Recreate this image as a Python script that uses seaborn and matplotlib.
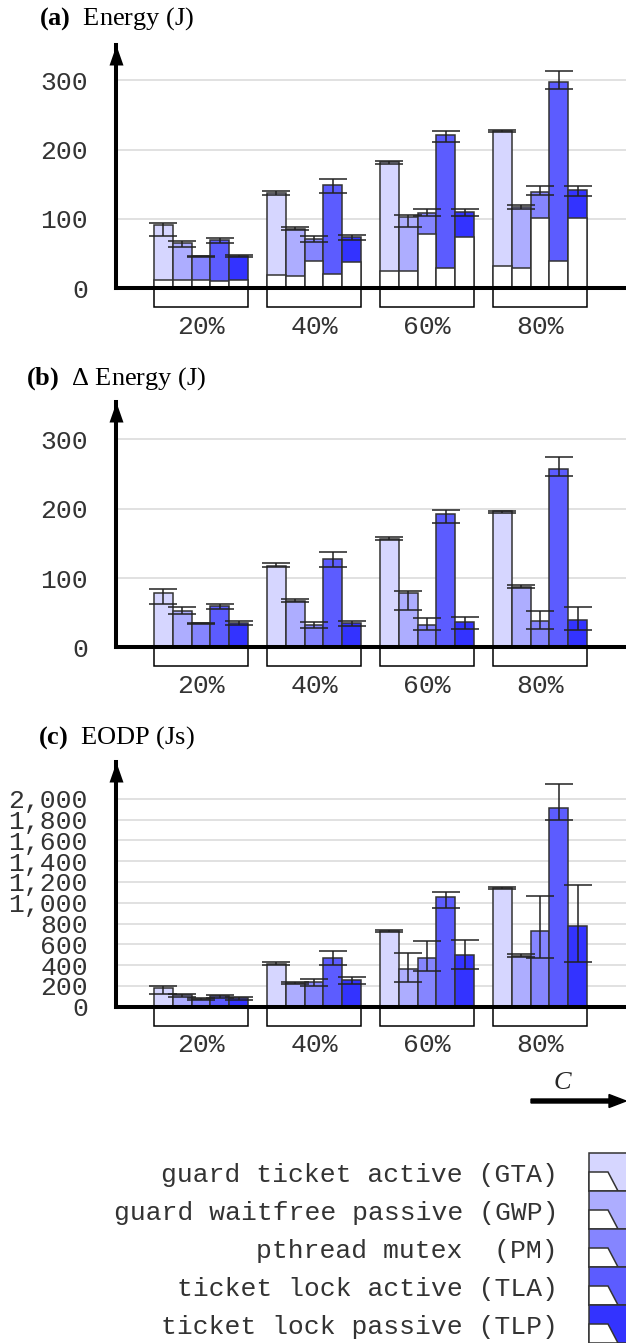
import numpy as np
import pandas as pd
import matplotlib
matplotlib.use('Agg')
import matplotlib.pyplot as plt
import matplotlib.ticker as mticker
from matplotlib.patches import Rectangle, Polygon, FancyArrow
import seaborn as sns

loads = ['20%', '40%', '60%', '80%']
locks = ['GTA', 'GWP', 'PM', 'TLA', 'TLP']
lock_names = ['guard ticket active (GTA)', 'guard waitfree passive (GWP)',
              'pthread mutex  (PM)', 'ticket lock active (TLA)',
              'ticket lock passive (TLP)']
colors = ['#d6d6ff', '#adadff', '#8585ff', '#5c5cff', '#3333ff']

# rows = locks (GTA, GWP, PM, TLA, TLP), cols = loads
energy_mean = [[91, 137, 182, 227], [65, 86, 103, 118], [46, 71, 109, 139],
               [70, 149, 221, 298], [47, 74, 110, 142]]
energy_lo = [[76, 135, 180, 226], [60, 84, 88, 115], [45, 67, 104, 134],
             [65, 137, 211, 288], [45, 70, 105, 133]]
energy_hi = [[94, 141, 183, 228], [68, 88, 106, 120], [47, 75, 114, 147],
             [72, 157, 227, 314], [48, 77, 115, 148]]
energy_idle = [[12.5, 19, 25.5, 32], [11.5, 18, 24.5, 30], [11.5, 39, 78, 101],
               [10, 20, 30, 40], [12, 38, 74, 101]]

delta_mean = [[79, 118, 157, 196], [53, 67, 79, 87.5], [34.6, 32, 32, 38],
              [60, 128, 192, 258], [34.6, 35, 36, 40]]
delta_lo = [[62.5, 115.5, 155.5, 194.5], [48.6, 65.4, 53.4, 85.6],
            [33.2, 27.4, 25, 26], [55.3, 115.9, 179.8, 246.6],
            [31.7, 31.3, 26.9, 25]]
delta_hi = [[83.7, 121.6, 158.5, 197], [57.7, 69.2, 81.7, 89.4],
            [35.6, 36.1, 42.3, 52.9], [63, 138, 198.6, 274],
            [37.5, 38.5, 44.2, 57.7]]

eodp_mean = [[176, 407, 724, 1144], [109, 228, 359, 487], [74, 234, 468, 724],
             [106, 468, 1054, 1907], [80, 253, 497, 776]]
eodp_lo = [[119, 397, 716, 1135], [90, 222, 240, 474], [69, 196, 340, 471],
           [87, 397, 952, 1792], [67, 218, 365, 429]]
eodp_hi = [[195, 433, 734, 1154], [125, 234, 519, 503], [79, 269, 631, 1061],
           [112, 535, 1106, 2141], [90, 285, 638, 1170]]

sns.set_style('white')
plt.rcParams['font.family'] = ['Liberation Mono', 'DejaVu Sans']
plt.rcParams['mathtext.fontset'] = 'custom'
plt.rcParams['mathtext.rm'] = 'Liberation Serif'
plt.rcParams['mathtext.it'] = 'Liberation Serif:italic'
plt.rcParams['mathtext.bf'] = 'Liberation Serif:bold'

W, H = 626, 1343
fig = plt.figure(figsize=(W / 100, H / 100), dpi=100)

group_w = 5 / 6
bw = group_w / len(locks)
offsets = [(i - 2) * bw for i in range(len(locks))]
ink = '#222222'


def panel(top, bottom, ymax, yticks, mean, lo, hi, idle=None, comma=False):
    ax = fig.add_axes([116 / W, 1 - bottom / H, 510 / W, (bottom - top) / H])
    df = pd.DataFrame([{'load': loads[j], 'lock': locks[i], 'value': mean[i][j]}
                       for i in range(len(locks)) for j in range(len(loads))])
    sns.barplot(data=df, x='load', y='value', hue='lock', order=loads,
                hue_order=locks, palette=colors, width=group_w, saturation=1,
                edgecolor='#333333', linewidth=1.1, errorbar=None,
                legend=False, ax=ax, zorder=2)
    for i in range(len(locks)):
        x = np.arange(len(loads)) + offsets[i]
        m = np.array(mean[i])
        if idle is not None:
            ax.bar(x, idle[i], width=bw, color='white', edgecolor='#333333',
                   linewidth=1.1, zorder=3)
        ax.errorbar(x, m, yerr=[m - np.array(lo[i]), np.array(hi[i]) - m],
                    fmt='none', ecolor=ink, elinewidth=1.1, capsize=10,
                    capthick=1.1, zorder=4)

    ax.set_xlim(-0.752, 3.761)
    ax.set_ylim(0, ymax)
    ax.set_yticks(yticks)
    if comma:
        ax.yaxis.set_major_formatter(mticker.StrMethodFormatter('{x:,.0f}'))
    ax.set_xlabel('')
    ax.set_ylabel('')
    for s in ['top', 'right']:
        ax.spines[s].set_visible(False)
    for s in ['left', 'bottom']:
        ax.spines[s].set_linewidth(2.9)
        ax.spines[s].set_color('black')
        ax.spines[s].set_zorder(6)
    ax.tick_params(axis='y', direction='inout', length=26.6, width=1.0,
                   pad=7, labelsize=19, color=ink, labelcolor='#333333')
    ax.tick_params(axis='x', length=0, pad=19, labelsize=19,
                   labelcolor='#333333')
    ax.yaxis.grid(True, color='#dcdcdc', lw=1.2)
    ax.xaxis.grid(False)
    ax.set_axisbelow(True)

    # arrow head on the y axis
    ax.plot([0], [1], transform=ax.transAxes,
            marker=[(0, 0), (-0.35, -1), (0.35, -1)], ms=28.8, mew=0,
            color='black', clip_on=False, zorder=7)

    # boxes under each group
    box_h = 19 * ymax / (bottom - top)
    for j in range(len(loads)):
        ax.add_patch(Rectangle((j - group_w / 2, -box_h), group_w, box_h,
                               fill=False, ec='black', lw=1.1,
                               clip_on=False, zorder=6))
    return ax


panel(45, 288.3, 351, [0, 100, 200, 300], energy_mean, energy_lo, energy_hi,
      idle=energy_idle)
panel(402, 647.3, 354, [0, 100, 200, 300], delta_mean, delta_lo, delta_hi)
panel(762, 1006.7, 2353, list(range(0, 2001, 200)), eodp_mean, eodp_lo,
      eodp_hi, comma=True)

title_kw = dict(family='Liberation Serif', fontsize=19, ha='center',
                va='center', color='black')
fig.text(116.5 / W, 1 - 19 / H, r'$\mathbf{(a)}$  Energy (J)', **title_kw)
fig.text(116.5 / W, 1 - 379 / H, r'$\mathbf{(b)}$  Δ Energy (J)', **title_kw)
fig.text(116.5 / W, 1 - 738 / H, r'$\mathbf{(c)}$  EODP (Js)', **title_kw)

# overlay in pixel coordinates for the C arrow and the legend
ov = fig.add_axes([0, 0, 1, 1])
ov.set_xlim(0, W)
ov.set_ylim(H, 0)
ov.axis('off')

ov.add_patch(FancyArrow(531, 1101, 95, 0, width=4, head_width=13,
                        head_length=17, length_includes_head=True,
                        color='black'))
ov.text(563, 1082, '$C$', fontsize=19, ha='center', va='center')

for i, name in enumerate(lock_names):
    y0 = 1153 + 38 * i
    ov.add_patch(Rectangle((589, y0), 45, 38, fc=colors[i], ec='#333333',
                           lw=1.1))
    ov.add_patch(Polygon([(589, y0 + 19), (608, y0 + 19), (618, y0 + 38),
                          (589, y0 + 38)], closed=True, fc='white',
                         ec='#333333', lw=1.1))
    ov.text(558, y0 + 22, name, ha='right', va='center', fontsize=19,
            color='#333333')

fig.savefig('out.png', dpi=100)
